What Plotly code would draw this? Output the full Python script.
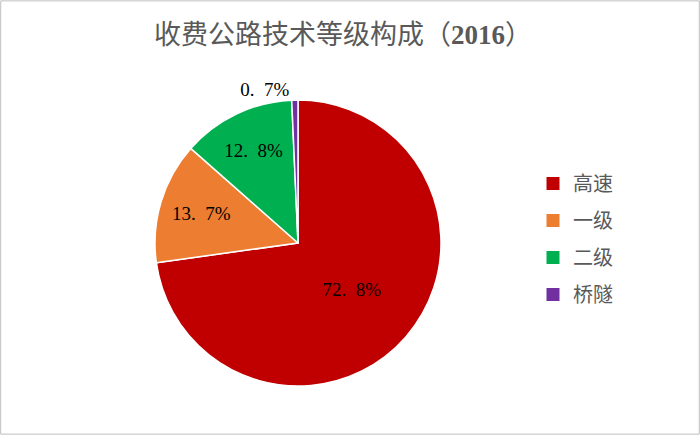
import plotly.graph_objects as go

# data
categories = ["高速", "一级", "二级", "桥隧"]
shares = [72.8, 13.7, 12.8, 0.7]
colors = ["#C00000", "#ED7D31", "#00B050", "#7030A0"]
label_pos = ["inside", "inside", "inside", "outside"]

W, H = 700, 435

fig = go.Figure()

# the source font leaves a gap after the decimal point
labels_txt = [f"{v:.1f}%".replace(".", ".\u2002") for v in shares]

fig.add_trace(go.Pie(
    labels=categories,
    values=shares,
    text=labels_txt,
    textinfo="text",
    textposition=label_pos,
    insidetextorientation="horizontal",
    textfont=dict(family="Liberation Serif, serif", size=19, color="#000000"),
    marker=dict(colors=colors, line=dict(color="white", width=1.5)),
    sort=False,
    direction="clockwise",
    rotation=0,
    showlegend=False,
    hoverinfo="label+percent",
    domain=dict(x=[155 / W, 441 / W], y=[49 / H, 335 / H]),
))

# legend entries as separate dummy traces so spacing can be controlled
for i, (name, col) in enumerate(zip(categories, colors)):
    fig.add_trace(go.Scatter(
        x=[None], y=[None], mode="markers", name=name,
        marker=dict(symbol="square", size=13, color=col),
        legendgroup=f"g{i}", showlegend=True,
    ))

fig.update_layout(
    width=W, height=H,
    margin=dict(l=0, r=0, t=0, b=0),
    paper_bgcolor="white",
    plot_bgcolor="white",
    title=dict(
        text="收费公路技术等级构成（<b><span style='font-family:Liberation Serif'>2016</span></b>）",
        x=343 / W, xanchor="center",
        y=1 - 35 / H, yanchor="middle",
        font=dict(family="Noto Sans CJK SC, sans-serif", size=27, color="#595959"),
    ),
    xaxis=dict(visible=False),
    yaxis=dict(visible=False),
    legend=dict(
        x=533 / W, xanchor="left",
        y=1 - 239 / H, yanchor="middle",
        font=dict(family="Noto Sans CJK SC, sans-serif", size=20, color="#595959"),
        tracegroupgap=8,
        bgcolor="rgba(0,0,0,0)",
    ),
    shapes=[dict(
        type="rect", xref="paper", yref="paper",
        x0=0.001, x1=0.999, y0=0.002, y1=0.998,
        line=dict(color="#BFBFBF", width=1),
    )],
)

fig.write_html("out.html", config={"displayModeBar": False},
               post_script="document.body.style.margin='0';")
